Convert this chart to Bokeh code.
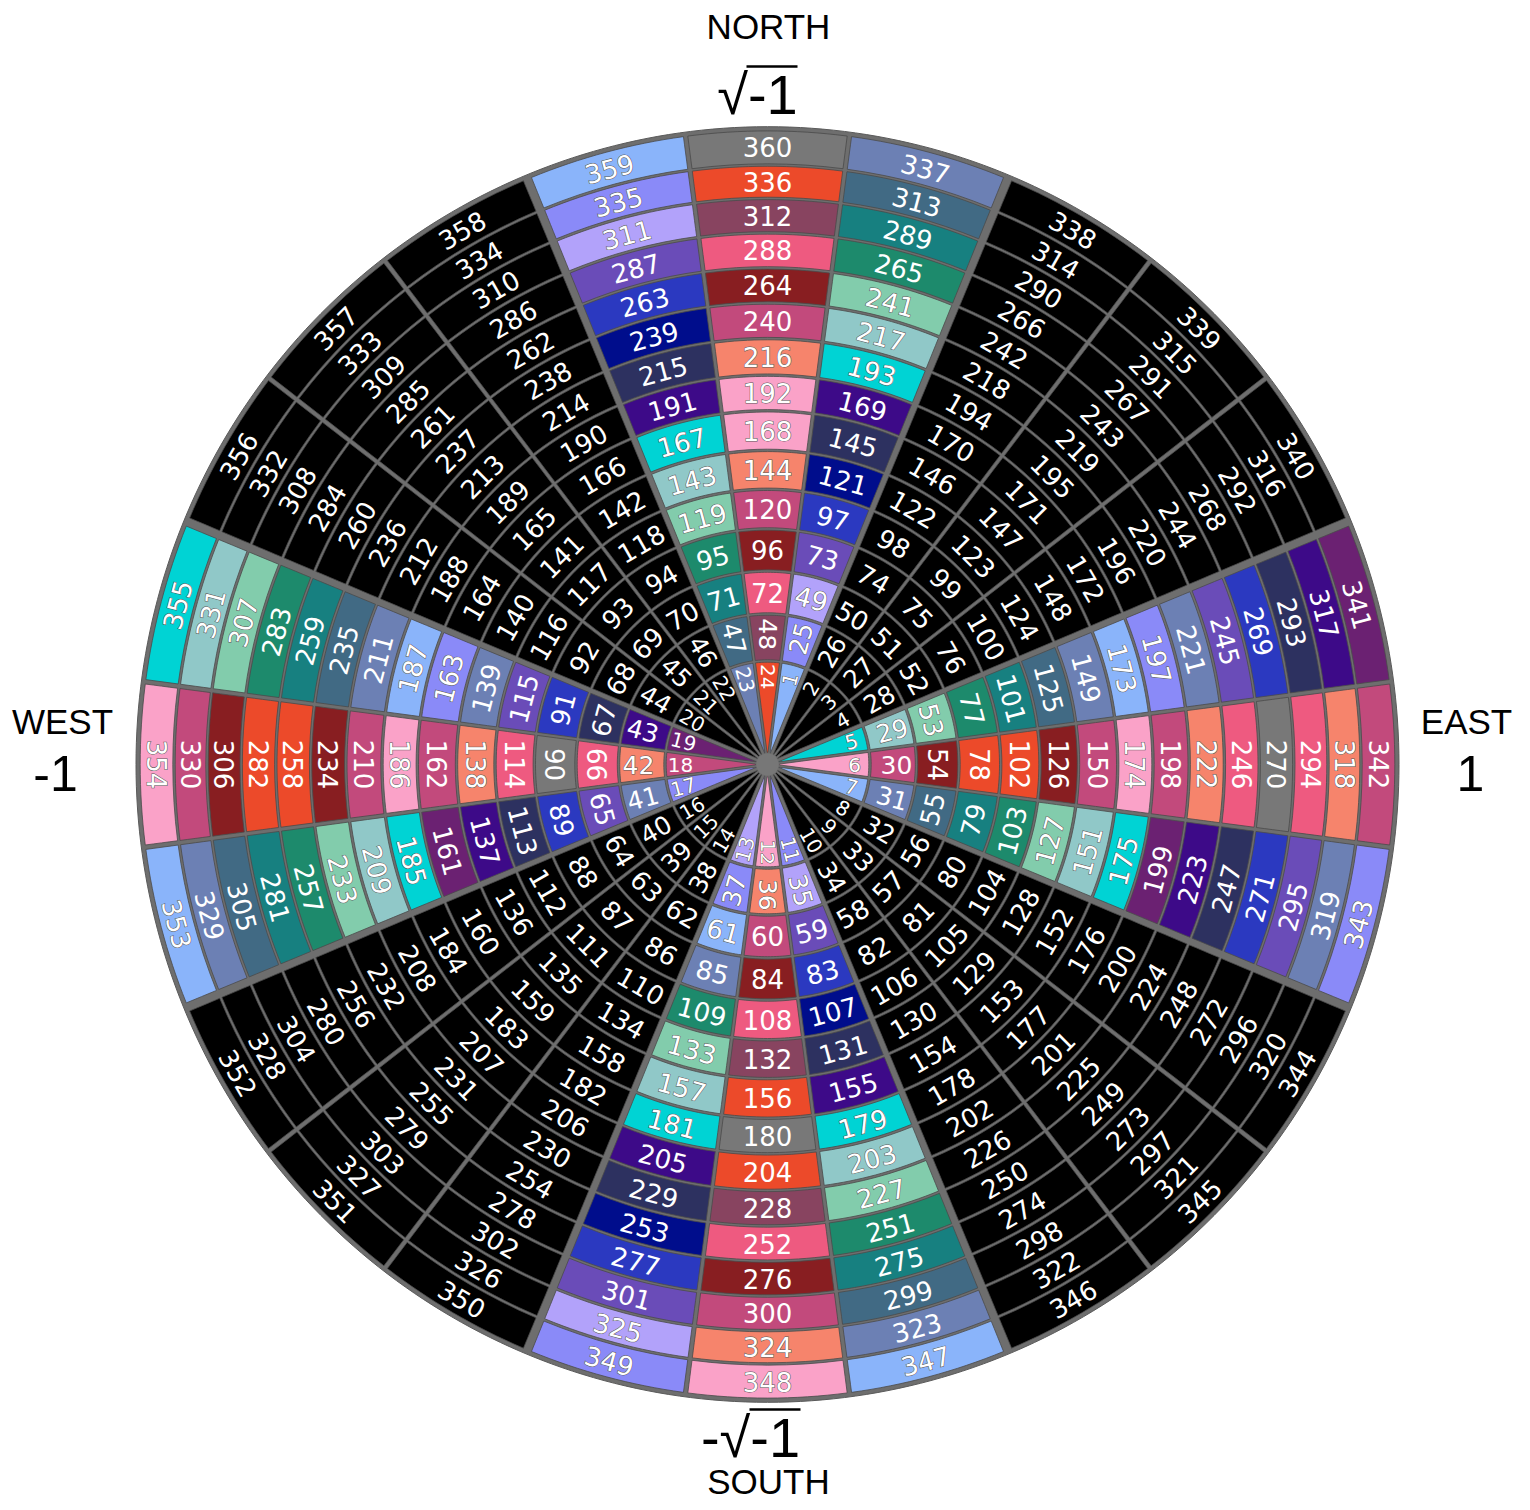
import math
from bokeh.plotting import figure
from bokeh.models import ColumnDataSource, Range1d
from bokeh.models.glyphs import Text
from bokeh.core.properties import value
from bokeh.embed import file_html
from bokeh.resources import INLINE

# ---------------- data ----------------
N_SECTORS = 24          # spokes, 15 degrees each; number n sits in sector n % 24
N_RINGS = 15            # 24 numbers per ring
numbers = list(range(1, N_SECTORS * N_RINGS + 1))

palette = {
    "LB": "#8ab4fa", "LAV": "#8a8af8", "LLAV": "#b2a2fa", "MP": "#6a4cb8",
    "BL": "#2b39c0", "NV": "#000d8c", "DS": "#2d3160", "IN": "#3d0a88",
    "CY": "#00d3d4", "LTG": "#90c8c8", "MINT": "#82ccac", "TG": "#1d8a6c",
    "TL": "#178080", "ST": "#416a84", "SB": "#6c80b4", "MG": "#6b2172",
    "GR": "#787878", "RO": "#ec4a2a", "DM": "#884460", "PK": "#ee5a80",
    "DR": "#881e21", "MV": "#c24a7c", "SA": "#f6846c", "LP": "#faa2c8",
    "BK": "#000000",
}
light_classes = ["LB", "LAV", "LLAV", "LTG", "MINT", "LP", "SA", "CY"]

# colour class of each ring (inner -> outer) for the coloured sectors; all others are black
sector_colors = {
    0:  ["RO", "DM", "PK", "DR", "MV", "SA", "LP", "LP", "SA", "MV", "DR", "PK", "DM", "RO", "GR"],
    1:  ["LB", "LAV", "LLAV", "MP", "BL", "NV", "DS", "IN", "CY", "LTG", "MINT", "TG", "TL", "ST", "SB"],
    23: ["SB", "ST", "TL", "TG", "MINT", "LTG", "CY", "IN", "DS", "NV", "BL", "MP", "LLAV", "LAV", "LB"],
    5:  ["CY", "LTG", "MINT", "TG", "TL", "ST", "SB", "LB", "LAV", "SB", "MP", "BL", "DS", "IN", "MG"],
    6:  ["LP", "MV", "DR", "RO", "RO", "DR", "MV", "LP", "MV", "SA", "PK", "GR", "PK", "SA", "MV"],
    7:  ["LB", "SB", "ST", "TL", "TG", "MINT", "LTG", "CY", "MG", "IN", "DS", "BL", "MP", "SB", "LAV"],
    11: ["LAV", "LLAV", "MP", "BL", "NV", "DS", "IN", "CY", "LTG", "MINT", "TG", "TL", "ST", "SB", "LB"],
    12: ["LP", "SA", "MV", "DR", "PK", "DM", "RO", "GR", "RO", "DM", "PK", "DR", "MV", "SA", "LP"],
    13: ["LLAV", "LAV", "LB", "SB", "TG", "MINT", "LTG", "CY", "IN", "DS", "NV", "BL", "MP", "LLAV", "LAV"],
    17: ["LAV", "SB", "MP", "BL", "DS", "IN", "MG", "CY", "LTG", "MINT", "TG", "TL", "ST", "SB", "LB"],
    18: ["MV", "SA", "PK", "GR", "PK", "SA", "MV", "LP", "MV", "DR", "RO", "RO", "DR", "MV", "LP"],
    19: ["MG", "IN", "DS", "BL", "MP", "SB", "LAV", "LB", "SB", "ST", "TL", "TG", "MINT", "LTG", "CY"],
}
# sector after which a thick group boundary runs (groups of three sectors)
group_after = [1, 4, 7, 10, 13, 16, 19, 22]

compass_labels = ["NORTH", "\u221a-1", "WEST", "-1", "EAST", "1", "-\u221a-1", "SOUTH"]

# ---------------- layout ----------------
W, H = 1514, 1494
CXS, CYS = 767, 764          # centre in plot pixels
ASPECT = 1.01
ring_edges = [12, 102.5, 149, 191.5, 233.2, 272.5, 311, 350.2, 385.5, 421.7,
              456.9, 491.7, 526.3, 560.5, 593.5, 628.5]
OUTER = 631.5
RGAP = 1.2
text_r_inner = {0: 87, 1: 129}
font_by_ring = {0: "20px", 1: "25px"}
FONT_MAIN = "26px"

def side_off(r, group):
    d = (1.6 + r * math.tan(math.radians(0.25))) if group else (1.1 + r * math.tan(math.radians(0.1)))
    return math.degrees(math.asin(min(d / r, 0.99)))

def arc(r, a0, a1, n):
    pts = []
    for i in range(n + 1):
        a = math.radians(a0 + (a1 - a0) * i / n)
        pts.append((r * math.cos(a), r * math.sin(a)))
    return pts

xs, ys, fills = [], [], []
tx, ty, tang, ttext, tsize, tlight = [], [], [], [], [], []
for n in numbers:
    s = n % N_SECTORS
    k = (n - 1) // N_SECTORS
    cls = sector_colors[s][k] if s in sector_colors else "BK"
    th_c = 90 - 15 * s
    th_lo, th_hi = th_c - 7.5, th_c + 7.5
    g_lo = s in group_after                       # clockwise side
    g_hi = ((s - 1) % N_SECTORS) in group_after    # counter-clockwise side
    r0 = ring_edges[k] + (RGAP if k > 0 else 0)
    r1 = ring_edges[k + 1] - RGAP
    pts = arc(r1, th_lo + side_off(r1, g_lo), th_hi - side_off(r1, g_hi), 16)
    for i in range(1, 5):
        r = r1 + (r0 - r1) * i / 4
        a = math.radians(th_hi - side_off(r, g_hi))
        pts.append((r * math.cos(a), r * math.sin(a)))
    pts += arc(r0, th_hi - side_off(r0, g_hi), th_lo + side_off(r0, g_lo), 8)
    for i in range(1, 4):
        r = r0 + (r1 - r0) * i / 4
        a = math.radians(th_lo + side_off(r, g_lo))
        pts.append((r * math.cos(a), r * math.sin(a)))
    xs.append([p[0] for p in pts])
    ys.append([p[1] for p in pts])
    fills.append(palette[cls])

    rt = text_r_inner.get(k, (ring_edges[k] + ring_edges[k + 1]) / 2)
    a = th_c if k <= 1 else th_c - 90
    a = (a + 180) % 360 - 180
    if a > 90 - 1e-6:
        a -= 180
    elif a <= -90 - 1e-6:
        a += 180
    tx.append(rt * math.cos(math.radians(th_c)))
    ty.append(rt * math.sin(math.radians(th_c)))
    tang.append(math.radians(a))
    ttext.append(str(n))
    tsize.append(font_by_ring.get(k, FONT_MAIN))
    tlight.append(cls in light_classes)

p = figure(width=W, height=H, output_backend="svg", toolbar_location=None,
           x_range=Range1d(-CXS, W - CXS), y_range=Range1d(-(H - CYS) / ASPECT, CYS / ASPECT),
           min_border=0)
p.axis.visible = False
p.grid.visible = False
p.outline_line_color = None
p.background_fill_color = "white"

bg = arc(OUTER, 0, 360, 360)
p.patch([q[0] for q in bg], [q[1] for q in bg], fill_color="#6e6e6e", line_color="#5a5a5a", line_width=1)

cells = ColumnDataSource(dict(xs=xs, ys=ys, fill=fills))
p.patches("xs", "ys", source=cells, fill_color="fill", line_color="#4a4a4a", line_width=0.8)

hub = arc(11, 0, 360, 60)
p.patch([q[0] for q in hub], [q[1] for q in hub], fill_color="#777777", line_color=None)

txt_font = value("DejaVu Sans")
# outline halo under the labels of light cells
idx = [i for i, lt in enumerate(tlight) if lt]
halo = ColumnDataSource(dict(x=[tx[i] for i in idx], y=[ty[i] for i in idx], angle=[tang[i] for i in idx],
                             text=[ttext[i] for i in idx], size=[tsize[i] for i in idx]))
if "text_outline_color" in Text.properties():
    p.text("x", "y", text="text", angle="angle", source=halo, text_color="#5a5a5a",
           text_outline_color="#5a5a5a", text_font=txt_font, text_font_size="size",
           text_align="center", text_baseline="middle")

tsrc = ColumnDataSource(dict(x=tx, y=ty, angle=tang, text=ttext, size=tsize))
p.text("x", "y", text="text", angle="angle", source=tsrc, text_color="white",
       text_font=txt_font, text_font_size="size",
       text_align="center", text_baseline="middle")

# compass labels (screen positions of the reference -> data units)
def sx(px):
    return px - CXS
def sy(py):
    return (CYS - py) / ASPECT

lab_pos = [(768, 26), (757, 94), (62, 721), (55, 773), (1466, 721), (1470, 773), (750, 1437), (768, 1481)]
lab_size = ["35px", "56px", "35px", "50px", "35px", "50px", "56px", "35px"]
lsrc = ColumnDataSource(dict(x=[sx(a) for a, b in lab_pos], y=[sy(b) for a, b in lab_pos],
                             text=compass_labels, size=lab_size))
p.text("x", "y", text="text", source=lsrc, text_color="black", text_font=value("Liberation Sans"),
       text_font_size="size", text_align="center", text_baseline="middle")

# vinculum over "-1" of the two radicals
bars = [((746, 66), (797, 66)), ((749, 1409), (800, 1409))]
p.segment(x0=[sx(b[0][0]) for b in bars], y0=[sy(b[0][1]) for b in bars],
          x1=[sx(b[1][0]) for b in bars], y1=[sy(b[1][1]) for b in bars],
          line_color="black", line_width=2.5)

open("out.html", "w").write(file_html(p, INLINE))
